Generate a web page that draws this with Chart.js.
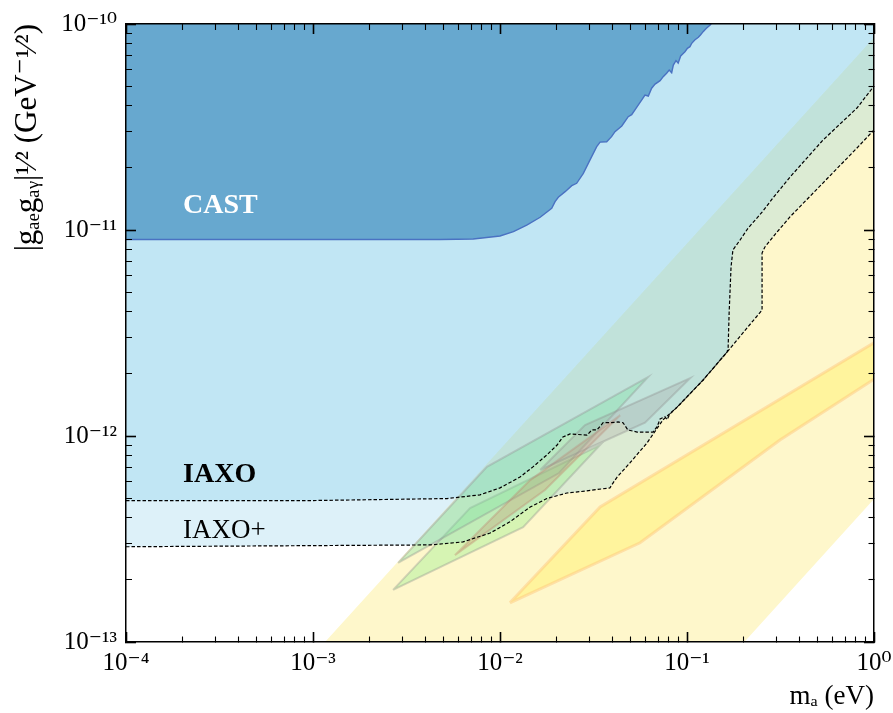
<!DOCTYPE html>
<html>
<head>
<meta charset="utf-8">
<title>IAXO reach in gae*gag</title>
<script src="https://cdn.jsdelivr.net/npm/chart.js"></script>
<style>
  html, body { margin: 0; padding: 0; background: #fff; }
</style>
</head>
<body>
<canvas id="graph" width="893" height="713"></canvas>
<script>
// ---- values: m_a in eV, |gae gag|^1/2 in GeV^-1/2 ----
const xMajorTicks = [1e-4, 1e-3, 1e-2, 1e-1, 1]
const xTickLabels = ['10⁻⁴', '10⁻³', '10⁻²', '10⁻¹', '10⁰']
const yMajorTicks = [1e-13, 1e-12, 1e-11, 1e-10]
const yTickLabels = ['10⁻¹³', '10⁻¹²', '10⁻¹¹', '10⁻¹⁰']
const minorMantissas = [2, 3, 4, 5, 6, 7, 8, 9]

// CAST excluded region (upper boundary of the dark blue area)
const castMass = [1e-4, 1e-3, 4.78e-3, 7.19e-3, 1.0e-2, 1.18e-2, 1.39e-2, 1.64e-2, 1.89e-2, 1.97e-2, 2.05e-2, 2.23e-2,
  2.42e-2, 2.57e-2, 2.79e-2, 3.03e-2, 3.29e-2, 3.43e-2, 3.72e-2, 3.95e-2, 4.12e-2, 4.48e-2, 4.85e-2, 5.06e-2,
  5.38e-2, 5.73e-2, 5.96e-2, 6.21e-2, 6.47e-2, 6.75e-2, 7.18e-2, 7.46e-2, 7.78e-2, 8.03e-2, 8.28e-2, 8.45e-2,
  8.73e-2, 8.97e-2, 9.25e-2, 9.75e-2, 0.1005, 0.1037, 0.106, 0.110, 0.115, 0.118, 0.122, 0.127, 0.133, 0.14]
const castCoupling = [9.0e-12, 9.0e-12, 9.0e-12, 9.04e-12, 9.35e-12, 9.81e-12, 1.057e-11, 1.153e-11, 1.274e-11, 1.372e-11, 1.442e-11, 1.535e-11,
  1.641e-11, 1.686e-11, 1.884e-11, 2.19e-11, 2.54e-11, 2.67e-11, 2.68e-11, 2.84e-11, 3.00e-11, 3.20e-11, 3.55e-11, 3.63e-11,
  3.94e-11, 4.28e-11, 4.52e-11, 4.47e-11, 4.88e-11, 5.11e-11, 5.31e-11, 5.55e-11, 5.77e-11, 5.98e-11, 5.80e-11, 6.32e-11,
  6.64e-11, 6.45e-11, 7.00e-11, 7.34e-11, 7.62e-11, 7.76e-11, 8.06e-11, 8.36e-11, 8.62e-11, 8.85e-11, 9.18e-11, 9.53e-11, 9.89e-11, 1.05e-10]

// IAXO sensitivity
const iaxoMass = [1e-4, 1e-3, 5.21e-3, 7.82e-3, 1.0e-2, 1.28e-2, 1.50e-2, 1.78e-2, 2.02e-2, 2.17e-2, 2.37e-2, 2.92e-2,
  3.10e-2, 3.30e-2, 3.56e-2, 3.87e-2, 4.28e-2, 4.55e-2, 4.83e-2, 5.41e-2, 6.58e-2, 6.92e-2, 7.18e-2, 7.62e-2,
  7.82e-2, 8.11e-2, 8.85e-2, 0.122, 0.164, 0.166, 0.168, 0.172, 0.176, 0.192, 0.212, 0.252, 0.288, 0.356, 0.533, 0.811, 1.0]
const iaxoCoupling = [4.86e-13, 4.86e-13, 4.97e-13, 5.18e-13, 5.60e-13, 6.32e-13, 7.08e-13, 8.09e-13, 9.04e-13, 9.89e-13, 1.023e-12, 1.01e-12,
  1.07e-12, 1.07e-12, 1.16e-12, 1.16e-12, 1.17e-12, 1.16e-12, 1.07e-12, 1.045e-12, 1.045e-12, 1.11e-12, 1.21e-12, 1.24e-12,
  1.20e-12, 1.28e-12, 1.38e-12, 1.87e-12, 2.56e-12, 2.70e-12, 3.95e-12, 6.61e-12, 8.0e-12, 8.93e-12, 1.02e-11, 1.22e-11, 1.43e-11, 1.81e-11, 2.73e-11, 3.91e-11, 5.0e-11]

// IAXO+ sensitivity
const iaxoPlusMass = [1e-4, 4.23e-3, 6.34e-3, 8.85e-3, 1.13e-2, 1.45e-2, 1.78e-2, 2.28e-2, 2.68e-2, 3.87e-2, 4.02e-2, 4.23e-2,
  4.95e-2, 6.11e-2, 7.45e-2, 8.85e-2, 0.122, 0.164, 0.252, 0.252, 0.261, 0.303, 0.356, 0.533, 0.811, 1.0]
const iaxoPlusCoupling = [2.90e-13, 2.96e-13, 3.06e-13, 3.38e-13, 3.83e-13, 4.52e-13, 4.97e-13, 5.29e-13, 5.37e-13, 5.60e-13, 5.91e-13, 6.32e-13,
  7.40e-13, 9.25e-13, 1.20e-12, 1.38e-12, 1.87e-12, 2.56e-12, 4.09e-12, 7.73e-12, 8.27e-12, 9.77e-12, 1.16e-11, 1.69e-11, 2.50e-11, 3.06e-11]

// QCD axion band (pale yellow) and the brighter inner band
const bandMass = [8e-4, 1.5, 1.5, 0.16, 8e-4]
const bandCoupling = [6.9e-14, 1.29e-10, 7.43e-13, 7.9e-14, 6.9e-14]
const innerBandMass = [1.13e-2, 3.43e-2, 1.3, 1.3, 0.314, 5.61e-2, 1.13e-2]
const innerBandCoupling = [1.55e-13, 4.52e-13, 3.27e-12, 2.2e-12, 9.57e-13, 3.03e-13, 1.55e-13]

// hinted regions (parallelograms)
const hintAMass = [2.85e-3, 8.51e-3, 6.18e-2, 2.07e-2, 2.85e-3]
const hintACoupling = [2.42e-13, 7.08e-13, 1.93e-12, 6.61e-13, 2.42e-13]
const hintBMass = [2.68e-3, 6.92e-3, 3.43e-2, 1.33e-2, 2.68e-3]
const hintBCoupling = [1.79e-13, 4.47e-13, 9.04e-13, 3.61e-13, 1.79e-13]
const hintCMass = [5.74e-3, 1.45e-2, 4.39e-2, 1.74e-2, 5.74e-3]
const hintCCoupling = [2.64e-13, 6.11e-13, 1.26e-12, 5.47e-13, 2.64e-13]
const hintDMass = [1.64e-2, 2.85e-2, 0.104, 5.96e-2, 1.64e-2]
const hintDCoupling = [6.84e-13, 1.13e-12, 1.91e-12, 1.16e-12, 6.84e-13]

// region names, anchored (left, middle) in data units
const labelTexts = ['CAST', 'IAXO', 'IAXO+']
const labelMass = [2.02e-4, 2.02e-4, 2.02e-4]
const labelCoupling = [1.31e-11, 6.47e-13, 3.46e-13]

// ---- styling ----
const SERIF = "'Liberation Serif', 'DejaVu Serif', serif"
const labelStyles = [
  {font: 'bold 28px ' + SERIF, color: '#ffffff'},
  {font: 'bold 28px ' + SERIF, color: '#000000'},
  {font: '27px ' + SERIF, color: '#000000'}
]
const NONE = 'rgba(0,0,0,0)'

function pts(ms, gs) {
  return ms.map((m, i) => ({x: m, y: gs[i]}))
}

function logTicks(majors) {
  let out = []
  majors.forEach((v, i) => {
    out.push(v)
    if (i < majors.length - 1) minorMantissas.forEach(k => out.push(v * k))
  })
  return out
}

function isMajor(value, majors) {
  return majors.some(v => Math.abs(Math.log10(v) - Math.log10(value)) < 1e-6)
}

function area(data, fill, color, order, extra) {
  return Object.assign({
    data: data, fill: fill, backgroundColor: color, borderColor: NONE, borderWidth: 1,
    pointRadius: 0, tension: 0, order: order, clip: 0
  }, extra || {})
}

const hintEdge = {borderColor: 'rgba(140,140,140,0.35)', borderWidth: 2}
const datasets = [
  area(pts(bandMass, bandCoupling), 'shape', 'rgb(254,247,203)', 20),
  area(pts(innerBandMass, innerBandCoupling), 'shape', 'rgba(255,243,120,0.55)', 19,
    {borderColor: 'rgba(255,196,120,0.45)', borderWidth: 3}),
  area(pts(iaxoPlusMass, iaxoPlusCoupling), 'end', 'rgba(133,205,235,0.28)', 18),
  area(pts(iaxoMass, iaxoCoupling), 'end', 'rgba(133,205,235,0.31)', 17),
  area(pts(castMass, castCoupling), 'end', '#67a8cf', 16, {borderColor: '#4a72c2', borderWidth: 1.4}),
  area(pts(hintBMass, hintBCoupling), 'shape', 'rgba(150,240,140,0.38)', 15, hintEdge),
  area(pts(hintAMass, hintACoupling), 'shape', 'rgba(120,225,160,0.34)', 14, hintEdge),
  area(pts(hintCMass, hintCCoupling), 'shape', 'rgba(200,140,100,0.28)', 13, {borderColor: 'rgba(190,130,110,0.35)', borderWidth: 2}),
  area(pts(hintDMass, hintDCoupling), 'shape', 'rgba(160,160,160,0.28)', 12, hintEdge),
  area(pts(iaxoPlusMass, iaxoPlusCoupling), false, NONE, 2, {borderColor: '#000', borderWidth: 1.2, borderDash: [3.5, 2]}),
  area(pts(iaxoMass, iaxoCoupling), false, NONE, 1, {borderColor: '#000', borderWidth: 1.2, borderDash: [3.5, 2]})
]

// ticks point into the plot; minor ones are shortened with a dash pattern
function tickGrid(majors, fromBorder) {
  return {
    drawOnChartArea: false,
    tickLength: -10,
    tickColor: '#000',
    z: 1,
    tickWidth: (c) => c.tick && isMajor(c.tick.value, majors) ? 1.6 : 1.1,
    tickBorderDash: (c) => {
      if (c.tick && isMajor(c.tick.value, majors)) return []
      return fromBorder ? [6, 40] : [0, 4, 7, 40]
    }
  }
}

function logAxis(position, min, max, majors, labels, size) {
  const horizontal = position === 'top' || position === 'bottom'
  return {
    type: 'logarithmic',
    position: position,
    min: min,
    max: max,
    afterBuildTicks: (s) => { s.ticks = logTicks(majors).map(v => ({value: v})) },
    afterFit: (s) => {
      if (horizontal) s.height = size; else s.width = size
      s.paddingLeft = 0; s.paddingRight = 0; s.paddingTop = 0; s.paddingBottom = 0
    },
    grid: tickGrid(majors, position === 'bottom' || position === 'right'),
    border: {display: true, color: '#000', width: 1.5, z: 1},
    ticks: {
      display: !!labels,
      autoSkip: false,
      maxRotation: 0,
      z: 1,
      color: '#000',
      padding: horizontal ? 16 : 19,
      font: {family: SERIF, size: 25},
      callback: (v) => {
        if (!labels) return ''
        const i = majors.findIndex(m => Math.abs(Math.log10(m) - Math.log10(v)) < 1e-6)
        return i >= 0 ? labels[i] : ''
      }
    }
  }
}

const xAxis = logAxis('bottom', 1e-4, 1, xMajorTicks, xTickLabels, 71)
xAxis.title = {display: true, text: 'mₐ (eV)', align: 'end', color: '#000',
  font: {family: SERIF, size: 27}, padding: {top: 0, bottom: 0}}
const yAxis = logAxis('left', 1e-13, 1e-10, yMajorTicks, yTickLabels, 126)
yAxis.title = {display: true, text: '|gₐₑgₐᵧ|¹⁄² (GeV⁻¹⁄²)', align: 'end', color: '#000',
  font: {family: SERIF, size: 31}, padding: {top: 9, bottom: 0}}

const regionLabels = {
  id: 'regionLabels',
  afterDatasetsDraw(chart) {
    const {ctx, scales} = chart
    ctx.save()
    ctx.textAlign = 'left'
    ctx.textBaseline = 'middle'
    labelTexts.forEach((t, i) => {
      ctx.font = labelStyles[i].font
      ctx.fillStyle = labelStyles[i].color
      ctx.fillText(t, scales.x.getPixelForValue(labelMass[i]), scales.y.getPixelForValue(labelCoupling[i]))
    })
    ctx.restore()
  }
}

new Chart(document.getElementById('graph'), {
  type: 'line',
  data: {datasets: datasets},
  options: {
    responsive: false,
    animation: false,
    layout: {padding: 0},
    plugins: {legend: {display: false}, tooltip: {enabled: false}},
    scales: {
      x: xAxis,
      y: yAxis,
      x2: logAxis('top', 1e-4, 1, xMajorTicks, null, 24),
      y2: logAxis('right', 1e-13, 1e-10, yMajorTicks, null, 19)
    }
  },
  plugins: [regionLabels]
})
</script>
</body>
</html>
